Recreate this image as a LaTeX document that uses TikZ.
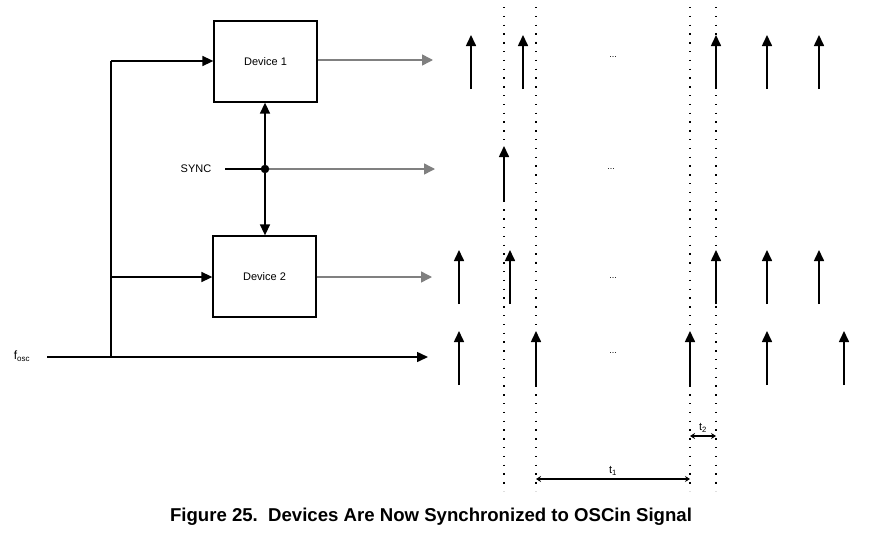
\documentclass[tikz,border=0pt]{standalone}
\usepackage{fontspec}
\setmainfont{Liberation Sans}
\usetikzlibrary{positioning,arrows.meta,calc}
\definecolor{outGray}{RGB}{128,128,128}
\tikzset{
  dev/.style={rectangle, draw=black, line width=1.3pt, fill=white,
              minimum width=103pt, minimum height=81pt, inner sep=0pt,
              font=\fontsize{11}{13}\selectfont},
  lbl/.style={font=\fontsize{11}{13}\selectfont, inner sep=1pt},
  sig/.style={-{Triangle[length=11pt,width=10pt]}, draw=black, line width=1.5pt},
  outsig/.style={-{Triangle[length=11pt,width=11pt]}, draw=outGray, line width=1.5pt},
  pulse/.style={-{Triangle[length=11pt,width=10pt]}, draw=black, line width=1.6pt},
  edgeline/.style={draw=black, line width=1.4pt, dash pattern=on 1.4pt off 7.4pt},
  span/.style={{Stealth[length=5pt,width=6pt]}-{Stealth[length=5pt,width=6pt]},
               draw=black, line width=1.3pt},
  dots/.style={font=\fontsize{9}{10}\selectfont, inner sep=0pt},
  junction/.style={circle, fill=black, draw=black, inner sep=0pt, minimum size=8pt},
}
\begin{document}
\begin{tikzpicture}[x=1pt,y=-1pt]
  \useasboundingbox (0,0) rectangle (883,536);

  %====================== DEVICES ======================
  \node[dev] (dev1) at (265.5,61.5) {Device 1};
  \node[dev] (dev2) at (264.5,276.5) {Device 2};

  %====================== CLOCK FEED ======================
  \node[lbl, font=\fontsize{12}{14}\selectfont] (fosc) at (22,356) {f\textsubscript{osc}};
  \coordinate (fstart) at (47,357);
  \coordinate (fsplit) at (111,357);
  \coordinate (fend) at (428,357);
  \coordinate (ftop) at (111,61);
  \coordinate (fmid) at (111,277);

  \draw[sig] (fstart) -- (fend);
  \draw[line width=1.5pt] (fsplit) -- (ftop);
  \draw[sig] (ftop) -- (dev1.west |- ftop);
  \draw[sig] (fmid) -- (dev2.west |- fmid);

  %====================== SYNC ======================
  \node[lbl] (sync) at (196,169) {SYNC};
  \coordinate (sstart) at (225,169);
  \coordinate (sc) at (265,169);
  \draw[line width=1.5pt] (sstart) -- (sc);
  \draw[outsig] (sc) -- (435,169) coordinate (os);
  \node[junction] (sdot) at (sc) {};
  \draw[sig] (sdot) -- (dev1.south -| sdot);
  \draw[sig] (sdot) -- (dev2.north -| sdot);

  %====================== OUTPUTS ======================
  \coordinate (o1) at (433,60);
  \coordinate (o2) at (432,277);
  \draw[outsig] (dev1.east |- o1) -- (o1);
  \draw[outsig] (dev2.east |- o2) -- (o2);

  %====================== TIMING ======================
  % reference edges
  \foreach \x in {504,536,690,716}
    \draw[edgeline] (\x,7) -- (\x,491);

  % pulses of each row
  \foreach \x in {471,523,716,767,819}
    \draw[pulse] (\x,89) -- (\x,35);
  \draw[pulse] (504,201) -- (504,146);
  \foreach \x in {459,510,716,767,819}
    \draw[pulse] (\x,304) -- (\x,250);
  \foreach \x in {459,536,690,767,844}
    \draw[pulse] (\x,385) -- (\x,331);

  \node[dots] (e1) at (613,57) {...};
  \node[dots] (e2) at (611,169) {...};
  \node[dots] (e3) at (613,278) {...};
  \node[dots] (e4) at (613,353) {...};

  % intervals
  \coordinate (t2a) at (690,436);
  \coordinate (t2b) at (716,436);
  \coordinate (t1a) at (536,479);
  \coordinate (t1b) at (690,479);
  \draw[span] (t2a) -- node[lbl, above=2pt] (t2) {t\textsubscript{2}} (t2b);
  \draw[span] (t1a) -- node[lbl, above=2pt] (t1) {t\textsubscript{1}} (t1b);

  %====================== CAPTION ======================
  \node[font=\bfseries\fontsize{18.6}{21}\selectfont] (cap) at (431,517)
    {Figure 25.\ \ Devices Are Now Synchronized to OSCin Signal};
\end{tikzpicture}
\end{document}
